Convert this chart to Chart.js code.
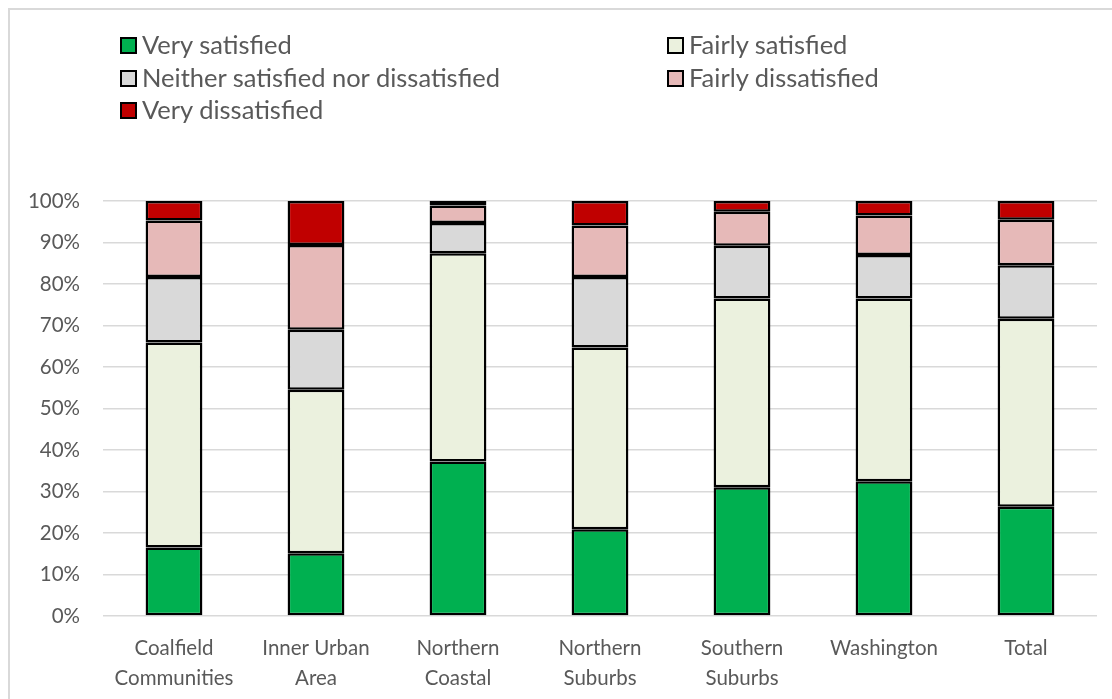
<!DOCTYPE html>
<html>
<head>
<meta charset="utf-8">
<script src="https://cdn.jsdelivr.net/npm/chart.js@4"></script>
<style>
  html, body { margin: 0; padding: 0; background: #fff; }
  #wrap { position: relative; width: 1112px; height: 699px; overflow: hidden; }
  #frame { position: absolute; left: 8px; top: 8px; right: -4px; bottom: -4px;
           border-top: 2px solid #d9d9d9; border-left: 2px solid #d9d9d9; }
  #chartCanvas { position: absolute; left: 0; top: 0; }
  .leg { position: absolute; font-family: Lato, "Open Sans", sans-serif; font-size: 25.5px;
         color: #595959; white-space: nowrap; line-height: 26px; }
  .leg i { display: inline-block; width: 13px; height: 13px; border: 2px solid #000;
           margin-right: 5px; vertical-align: 0px; }
</style>
</head>
<body>
<div id="wrap">
  <div id="frame"></div>
  <canvas id="chartCanvas" width="1112" height="699"></canvas>
  <div id="legend"></div>
</div>
<script>
const categories = [
  ["Coalfield", "Communities"],
  ["Inner Urban", "Area"],
  ["Northern", "Coastal"],
  ["Northern", "Suburbs"],
  ["Southern", "Suburbs"],
  "Washington",
  "Total"
];

const verySatisfied      = [16.5, 15.1, 37.2, 20.9, 31.0, 32.5, 26.3];
const fairlySatisfied    = [49.4, 39.4, 50.2, 43.8, 45.5, 44.0, 45.3];
const neither            = [15.8, 14.5,  7.3, 17.0, 12.7, 10.5, 12.9];
const fairlyDissatisfied = [13.6, 20.4,  4.2, 12.4,  8.2,  9.5, 11.0];
const veryDissatisfied   = [ 4.7, 10.6,  1.1,  5.9,  2.6,  3.5,  4.5];

const seriesNames = [
  "Very satisfied",
  "Fairly satisfied",
  "Neither satisfied nor dissatisfied",
  "Fairly dissatisfied",
  "Very dissatisfied"
];
const seriesColors = ["#00b050", "#ebf1de", "#d9d9d9", "#e6b9b8", "#c00000"];
const seriesData = [verySatisfied, fairlySatisfied, neither, fairlyDissatisfied, veryDissatisfied];

// legend: two columns, filled row by row
const legendPos = [[120, 31], [667, 31], [120, 64], [667, 64], [120, 96]];
const legendEl = document.getElementById("legend");
seriesNames.forEach((name, i) => {
  const d = document.createElement("div");
  d.className = "leg";
  d.style.left = legendPos[i][0] + "px";
  d.style.top = legendPos[i][1] + "px";
  d.innerHTML = `<i style="background:${seriesColors[i]}"></i>${name}`;
  legendEl.appendChild(d);
});

const tickFont = { family: "Lato, 'Open Sans', sans-serif", size: 20.5 };

new Chart(document.getElementById("chartCanvas"), {
  type: "bar",
  data: {
    labels: categories,
    datasets: seriesNames.map((name, i) => ({
      label: name,
      data: seriesData[i],
      backgroundColor: seriesColors[i],
      borderColor: "#000",
      borderWidth: 2.5,
      borderSkipped: false,
      barPercentage: 0.4,
      categoryPercentage: 1
    }))
  },
  options: {
    responsive: false,
    animation: false,
    layout: { padding: { top: 201, right: 15, left: 0, bottom: 0 } },
    plugins: { legend: { display: false }, tooltip: { enabled: false } },
    scales: {
      x: {
        stacked: true,
        grid: { display: false },
        border: { display: false },
        ticks: { color: "#595959", font: { ...tickFont, lineHeight: 1.46 }, padding: 9, maxRotation: 0 },
        afterFit: (s) => { s.height = 83; }
      },
      y: {
        stacked: true,
        min: 0,
        max: 100,
        grid: { color: "#d9d9d9", lineWidth: 1.5, drawTicks: false },
        border: { display: false },
        ticks: { stepSize: 10, color: "#595959", font: tickFont, padding: 23,
                 callback: (v) => v + "%" },
        afterFit: (s) => { s.width = 103; }
      }
    }
  }
});
</script>
</body>
</html>
